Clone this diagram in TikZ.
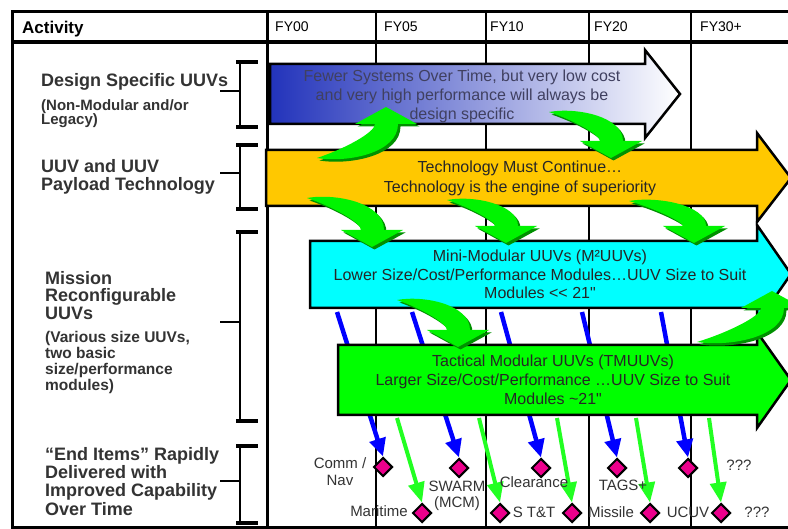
\documentclass[tikz,border=0pt]{standalone}
\usepackage{fontspec}
\setmainfont{Liberation Sans}
\newfontfamily\plainfont{Liberation Sans}
\usetikzlibrary{arrows.meta,shapes.geometric}
\definecolor{txt}{HTML}{333333}
\definecolor{bluedark}{HTML}{2233BB}
\definecolor{bluetxt}{HTML}{404060}
\definecolor{orangeb}{HTML}{FFC800}
\definecolor{cyanb}{HTML}{00FFFF}
\definecolor{greenb}{HTML}{00FF00}
\definecolor{swgreen}{HTML}{00F400}
\definecolor{swshadow}{HTML}{009000}
\definecolor{arrowblue}{HTML}{0000FF}
\definecolor{arrowgreen}{HTML}{22FF22}
\pgfdeclarelayer{backlayer}
\pgfdeclarelayer{arrowlayer}
\pgfsetlayers{backlayer,arrowlayer,main}
\newcommand\fsz[2]{\fontsize{#1}{#2}\selectfont}
\newcommand\swoosh[5]{%
 \pgfmathsetmacro\swW{#3-#1}%
 \pgfmathsetmacro\swD{abs(#4-#2)}%
 \foreach \swc/\swo in {swshadow/2.5,swgreen/0}{%
  \fill[fill=\swc, shift={({#1+\swo},{#2+\swo})}, yscale=#5]
   (0,0) .. controls ({0.45*\swW},-5) and ({\swW+12},{0.1*\swD}) .. ({\swW+12},{\swD-17})
   -- ({\swW+31},{\swD-17}) -- (\swW,\swD) -- ({\swW-31},{\swD-17}) -- ({\swW-11},{\swD-17})
   .. controls ({\swW-11},{0.5*\swD}) and ({0.4*\swW},{0.18*\swD}) .. cycle;
 }}
\newcommand\bracketmark[3]{%
 \draw[line width=2pt] (240,#1) -- (240,#2);
 \draw[line width=4pt] (236,#1) -- (258,#1) (236,#2) -- (258,#2);
 \draw[line width=2.5pt] (220,#3) -- (240,#3);}
\begin{document}
\begin{tikzpicture}[x=1pt,y=-1pt,
  grid/.style={line width=2pt, black},
  frame/.style={line width=3pt, black},
  banner/.style={draw=black, line width=2.5pt, line join=miter},
  btxt/.style={inner sep=0, align=center, anchor=north, font=\fsz{16}{19}},
  lbl/.style={inner sep=0, align=left, anchor=north west, text=txt},
  itm/.style={inner sep=0, text=txt, font=\fsz{15}{16}},
  hdr/.style={inner sep=0, anchor=base west, text=black},
  dia/.style={diamond, draw=black, line width=2pt, fill=magenta, minimum width=19pt, minimum height=19pt, inner sep=0, aspect=1},
  barrow/.style={draw=arrowblue, line width=4.5pt, -{Triangle[width=16pt,length=18pt]}},
  garrow/.style={draw=arrowgreen, line width=4pt, -{Triangle[width=16pt,length=20pt]}}]
\useasboundingbox (0,0) rectangle (788,529);
\clip (0,0) rectangle (788,529);
\begin{pgfonlayer}{backlayer}
\fill[white] (0,0) rectangle (788,529);
% table
\foreach \x in {376,486,589,691} \draw[grid] (\x,12) -- (\x,527);
\draw[frame] (267,12) -- (267,527);
\draw[frame] (12,12) -- (800,12);
\draw[line width=3.5pt] (12,42) -- (800,42);
\draw[frame] (12,10.5) -- (12,527) -- (800,527);
\end{pgfonlayer}
% header
\node[hdr, font=\fsz{17}{17}\bfseries] (hact) at (22,34) {Activity};
\node[hdr, font=\fsz{14}{14}] (h00) at (275,32) {FY00};
\node[hdr, font=\fsz{14}{14}] (h05) at (384,32) {FY05};
\node[hdr, font=\fsz{14}{14}] (h10) at (490,32) {FY10};
\node[hdr, font=\fsz{14}{14}] (h20) at (594,32) {FY20};
\node[hdr, font=\fsz{14}{14}] (h30) at (700,32) {FY30+};
% brackets
\bracketmark{62}{127}{91}
\bracketmark{145}{209}{173}
\bracketmark{232}{421}{322}
\bracketmark{446}{523}{481}
% activity labels
\node[lbl, font=\fsz{18}{18}\bfseries] (l1) at (41,73) {Design Specific UUVs};
\node[lbl, font=\fsz{15}{14}\bfseries] (l1s) at (41,99) {(Non-Modular and/or\\Legacy)};
\node[lbl, font=\fsz{18}{18}\bfseries] (l2) at (41,159) {UUV and UUV\\Payload Technology};
\node[lbl, font=\fsz{18}{17.5}\bfseries] (l3) at (45,271) {Mission\\Reconfigurable\\UUVs};
\node[lbl, font=\fsz{15.5}{15.7}\bfseries] (l3s) at (45,331.5) {(Various size UUVs,\\two basic\\size/performance\\modules)};
\node[lbl, font=\fsz{18}{18.3}\bfseries] (l4) at (45,447) {“End Items” Rapidly\\Delivered with\\Improved Capability\\Over Time};
% banners
\draw[banner, left color=bluedark, right color=white] (270,64) -- (645,64) -- (645,50) -- (680,94) -- (645,138) -- (645,124) -- (270,124) -- cycle;
\draw[banner, fill=orangeb] (266,150) -- (757,150) -- (757,133) -- (791,178) -- (757,222) -- (757,206) -- (266,206) -- cycle;
\draw[banner, fill=cyanb] (310,241) -- (757,241) -- (757,225) -- (791,274) -- (757,323) -- (757,308) -- (310,308) -- cycle;
\draw[banner, fill=greenb] (338,345) -- (757,345) -- (757,332) -- (791,380) -- (757,428) -- (757,415) -- (338,415) -- cycle;
% end item diamonds
\node[dia] (u1) at (383,467) {};
\node[dia] (u2) at (459,468) {};
\node[dia] (u3) at (541,468) {};
\node[dia] (u4) at (617,468) {};
\node[dia] (u5) at (688,468) {};
\node[dia] (w1) at (422,513) {};
\node[dia] (w2) at (500,513) {};
\node[dia] (w3) at (572,513) {};
\node[dia] (w4) at (650,513) {};
\node[dia] (w5) at (721,513) {};
% arrows to end items (behind banners and diamonds)
\coordinate (bt1) at (337,312);
\coordinate (bt2) at (412,312);
\coordinate (bt3) at (501,312);
\coordinate (bt4) at (582,312);
\coordinate (bt5) at (661,312);
\coordinate (gt1) at (397,418);
\coordinate (gt2) at (479,418);
\coordinate (gt3) at (557,418);
\coordinate (gt4) at (636,418);
\coordinate (gt5) at (709,418);
\begin{pgfonlayer}{arrowlayer}
\foreach \i in {1,...,5} \draw[barrow] (bt\i) -- (u\i.north);
\foreach \i in {1,...,5} \draw[garrow] (gt\i) -- (w\i.north);
\end{pgfonlayer}
% curved green arrows
\swoosh{317}{158}{386}{107}{-1}
\swoosh{549}{112}{611}{158}{1}
\swoosh{307}{198}{372}{247}{1}
\swoosh{447}{200}{506}{243}{1}
\swoosh{629}{201}{694}{243}{1}
\swoosh{397}{300}{458}{347}{1}
\swoosh{697}{342}{772}{291}{-1}
% banner texts
\node[btxt, text=bluetxt] (tb) at (462,70) {Fewer Systems Over Time, but very low cost\\and very high performance will always be\\design specific};
\node[btxt, text=black!85, font=\fsz{16}{20}] (to) at (520,161) {Technology Must Continue…\\Technology is the engine of superiority};
\node[btxt, text=black!85, font=\fsz{16}{18.5}\plainfont] (tc) at (540,250) {Mini-Modular UUVs (M²UUVs)\\Lower Size/Cost/Performance Modules…UUV Size to Suit\\Modules << 21"};
\node[btxt, text=black!85, font=\fsz{16}{19}\plainfont] (tg) at (553,355) {Tactical Modular UUVs (TMUUVs)\\Larger Size/Cost/Performance …UUV Size to Suit\\Modules \textasciitilde 21"};
% end item labels
\node[itm, align=center, anchor=north, font=\fsz{15}{17}] (c1) at (340,457) {Comm /\\Nav};
\node[itm, align=center, anchor=north] (c2) at (457,481) {SWARM\\(MCM)};
\node[itm, anchor=base] (c3) at (534,488) {Clearance};
\node[itm, anchor=base] (c4) at (623,491) {TAGS+};
\node[itm, anchor=base] (c5) at (739,471) {???};
\node[itm, anchor=base] (e1) at (379,517) {Maritime};
\node[itm, anchor=base] (e2) at (534,518) {S T\&T};
\node[itm, anchor=base] (e3) at (611,518) {Missile};
\node[itm, anchor=base] (e4) at (688,518) {UCUV};
\node[itm, anchor=base] (e5) at (757,518) {???};
\end{tikzpicture}
\end{document}
